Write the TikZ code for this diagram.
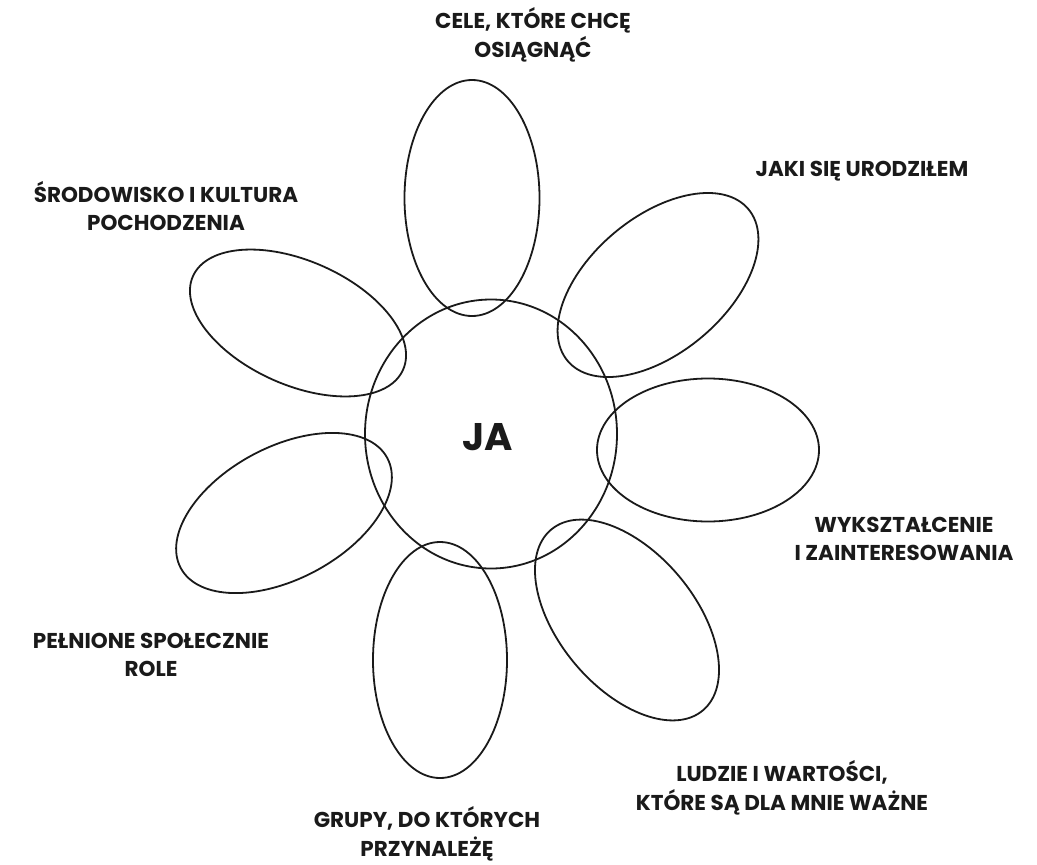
\documentclass[tikz,border=0pt]{standalone}
\usepackage{fontspec}
\setmainfont{Poppins}
\usetikzlibrary{shapes.geometric}
\definecolor{ink}{HTML}{1A1A1A}
\tikzset{
  petal/.style={draw=ink, line width=1.8pt, ellipse, inner sep=0pt, outer sep=0pt},
  lab/.style={align=center, text=ink, inner sep=0pt, font=\fontsize{21.5}{28.5}\selectfont\bfseries},
}
\begin{document}
\begin{tikzpicture}[x=1pt,y=-1pt]
\useasboundingbox (0,0) rectangle (1037,865);
% centre
\node[petal, minimum width=252pt, minimum height=269pt] (ja) at (491,434) {};
\node[text=ink, font=\fontsize{38.5}{40}\selectfont\bfseries] (jatext) at (488,437) {JA};
% petals
\node[petal, minimum width=236pt, minimum height=135pt, rotate=90] (p1) at (472,198) {};
\node[petal, minimum width=236pt, minimum height=136pt, rotate=40] (p2) at (658,285) {};
\node[petal, minimum width=222pt, minimum height=143pt] (p3) at (708,450) {};
\node[petal, minimum width=236pt, minimum height=136pt, rotate=-50] (p4) at (627,620) {};
\node[petal, minimum width=236pt, minimum height=134pt, rotate=90] (p5) at (440,660) {};
\node[petal, minimum width=234pt, minimum height=132pt, rotate=28] (p6) at (284,513) {};
\node[petal, minimum width=230pt, minimum height=124pt, rotate=-24] (p7) at (298,323) {};
% labels
\node[lab] (l1) at (533,35) {CELE, KTÓRE CHCĘ\\OSIĄGNĄĆ};
\node[lab] (l2) at (862,171) {JAKI SIĘ URODZIŁEM};
\node[lab] (l3) at (904,539) {WYKSZTAŁCENIE\\I ZAINTERESOWANIA};
\node[lab] (l4) at (782,788) {LUDZIE I WARTOŚCI,\\KTÓRE SĄ DLA MNIE WAŻNE};
\node[lab] (l5) at (427,834) {GRUPY, DO KTÓRYCH\\PRZYNALEŻĘ};
\node[lab] (l6) at (151,655) {PEŁNIONE SPOŁECZNIE\\ROLE};
\node[lab] (l7) at (166,206) {ŚRODOWISKO I KULTURA\\POCHODZENIA};
\end{tikzpicture}
\end{document}
